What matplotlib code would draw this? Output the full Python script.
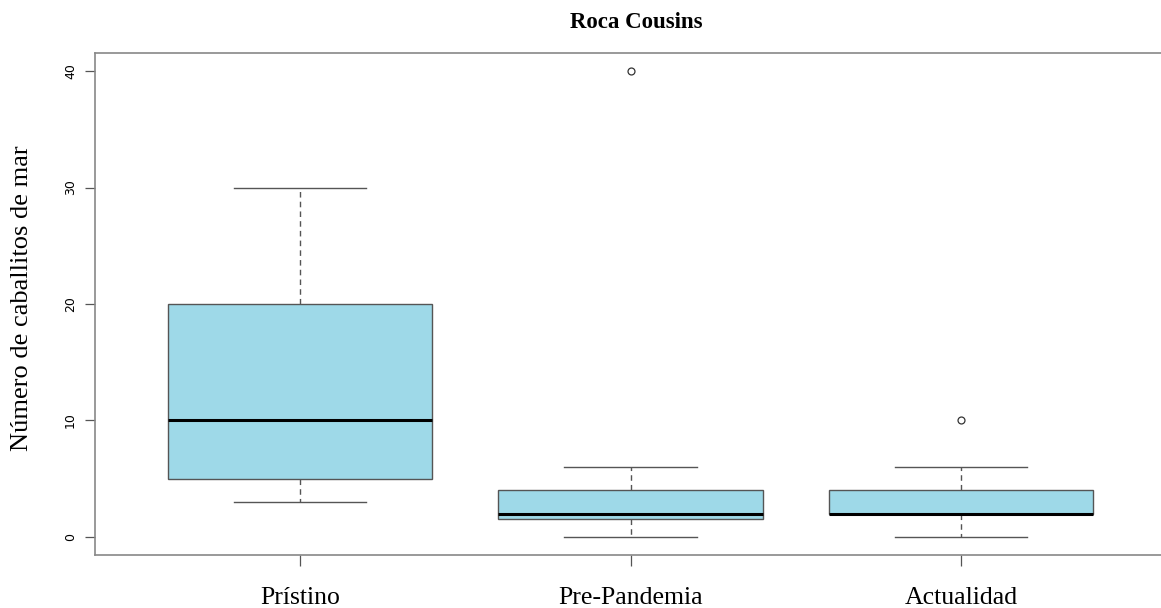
import matplotlib.pyplot as plt

# data
groups = ["Prístino", "Pre-Pandemia", "Actualidad"]
whislo = [3, 0, 0]
q1 = [5, 1.5, 2]
med = [10, 2, 2]
q3 = [20, 4, 4]
whishi = [30, 6, 6]
fliers = [[], [40], [10]]
yticks = [0, 10, 20, 30, 40]

stats = []
for i, g in enumerate(groups):
    stats.append({"label": g, "whislo": whislo[i], "q1": q1[i], "med": med[i],
                  "q3": q3[i], "whishi": whishi[i], "fliers": fliers[i]})

fig = plt.figure(figsize=(11.61, 6.08), dpi=100)
ax = fig.add_axes([95 / 1161, 1 - 555 / 608, (1166 - 95) / 1161, (555 - 53) / 608])

edge = "#555555"
ax.bxp(stats, positions=[1, 2, 3], widths=0.8, patch_artist=True,
       boxprops=dict(facecolor="#9ED9E8", edgecolor=edge, linewidth=1.0),
       medianprops=dict(color="black", linewidth=2.2),
       whiskerprops=dict(color=edge, linewidth=1.0, linestyle=(0, (4, 3))),
       capprops=dict(color=edge, linewidth=1.0),
       capwidths=0.4,
       flierprops=dict(marker="o", markersize=5, markerfacecolor="white",
                       markeredgecolor="#333333", markeredgewidth=0.9))

ax.set_xlim(0.38, 3.62)
ax.set_ylim(-1.55, 41.55)
ax.set_yticks(yticks)
ax.set_yticklabels([str(t) for t in yticks], rotation=90, va="center",
                   fontsize=9, family="DejaVu Sans")
ax.set_xticks([1, 2, 3])
ax.set_xticklabels(groups, fontsize=18.5, family="Liberation Serif")
ax.tick_params(axis="y", length=7, width=0.9, color="#555555", pad=6)
ax.tick_params(axis="x", length=8, width=0.9, color="#555555", pad=15)

for s in ["left", "top", "bottom", "right"]:
    ax.spines[s].set_color("#888888")
    ax.spines[s].set_linewidth(1.2)

ax.set_ylabel("Número de caballitos de mar", fontsize=19,
              family="Liberation Serif", va="center")
ax.yaxis.set_label_coords(-0.068, 0.512)
fig.text(636 / 1161, 1 - 22 / 608, "Roca Cousins", ha="center", va="center",
         fontsize=16.5, fontweight="bold", family="Liberation Serif")

fig.savefig("out.png", dpi=100)
